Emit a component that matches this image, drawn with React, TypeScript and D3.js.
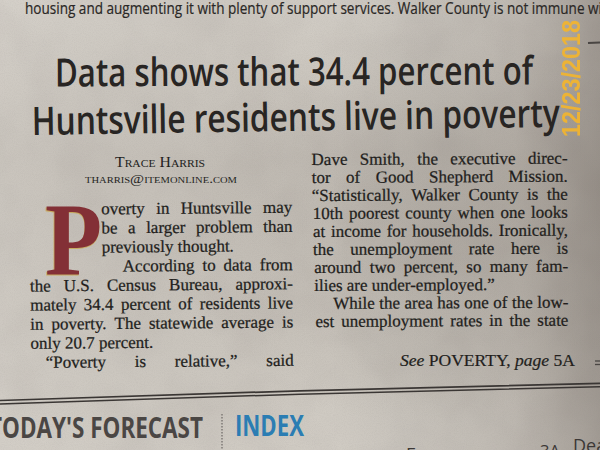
import React, { useMemo } from 'react';
import * as d3 from 'd3';

// ---------- content (read from the clipping) ----------
const topLine = 'housing and augmenting it with plenty of support services. Walker County is not immune wi';
const headlineLines = ['Data shows that 34.4 percent of', 'Huntsville residents live in poverty'];
const dateStamp = '12/23/2018';
const bylineName = 'Trace Harris';
const bylineEmail = 'tharris@itemonline.com';
const dropCap = 'P';
const leftColumn = [
  'overty in Huntsville may',
  'be a larger problem than',
  'previously thought.',
  'According to data from',
  'the U.S. Census Bureau, approxi-',
  'mately 34.4 percent of residents live',
  'in poverty. The statewide average is',
  'only 20.7 percent.',
  '\u201CPoverty is relative,\u201D said',
];
const rightColumn = [
  'Dave Smith, the executive direc-',
  'tor of Good Shepherd Mission.',
  '\u201CStatistically, Walker County is the',
  '10th poorest county when one looks',
  'at income for households. Ironically,',
  'the unemployment rate here is',
  'around two percent, so many fam-',
  'ilies are under-employed.\u201D',
  'While the area has one of the low-',
  'est unemployment rates in the state',
];
const jumpParts = [
  { t: 'See ', italic: true },
  { t: 'POVERTY, ', italic: false },
  { t: 'page ', italic: true },
  { t: '5A', italic: false },
];
const footerLeft = "TODAY'S FORECAST";
const footerRight = 'INDEX';
const footerBits = ['E', '3A', 'Dear'];

// ---------- helpers ----------
const SERIF = '"Liberation Serif", "DejaVu Serif", serif';
const SANS = '"Open Sans", "Noto Sans", sans-serif';
const BODY_SIZE = 17;
const INK = '#221e1c';

let ctx: CanvasRenderingContext2D | null = null;
function measure(text: string, font: string) {
  if (!ctx) ctx = document.createElement('canvas').getContext('2d');
  ctx!.font = font;
  return ctx!.measureText(text).width;
}

type Word = { w: string; x: number; len: number; squeeze: boolean };
function layoutLine(text: string, x0: number, x1: number, justify: boolean): Word[] {
  const font = `${BODY_SIZE}px ${SERIF}`;
  const words = text.split(' ');
  const widths = words.map((w) => measure(w, font));
  const sum = d3.sum(widths);
  const space = measure(' ', font);
  const n = words.length;
  const minGap = space * 0.75;
  const avail = x1 - x0;
  const natural = sum + (n - 1) * space;
  let scale = 1;
  let gap = space;
  if (justify) {
    scale = Math.min(1, (avail - (n - 1) * minGap) / sum);
    gap = n > 1 ? (avail - sum * scale) / (n - 1) : 0;
  } else if (natural > avail) {
    scale = (avail - (n - 1) * space) / sum;
  }
  let x = x0;
  return words.map((w, i) => {
    const len = widths[i] * scale;
    const r = { w, x, len, squeeze: scale < 1 };
    x += len + gap;
    return r;
  });
}

function Column({ lines, x0, x1, y0, y1, indents, ragged, rot }: any) {
  const yScale = d3.scaleLinear().domain([0, lines.length - 1]).range([y0, y1]);
  return (
    <g transform={`rotate(${rot}, ${x0}, ${(y0 + y1) / 2})`}>
      {lines.map((line: string, i: number) => {
        const words = layoutLine(line, indents[i] ?? x0, x1, !ragged.includes(i));
        return words.map((wd, j) => (
          <text
            key={`${i}-${j}`}
            x={wd.x}
            y={yScale(i)}
            fontFamily={SERIF}
            fontSize={BODY_SIZE}
            fill={INK}
            stroke={INK}
            strokeWidth={0.25}
            {...(wd.squeeze ? { textLength: wd.len, lengthAdjust: 'spacingAndGlyphs' } : {})}
          >
            {wd.w}
          </text>
        ));
      })}
    </g>
  );
}

export default function App() {
  const W = 600;
  const H = 450;

  const rulePath = useMemo(() => {
    const x = d3.scaleLinear().domain([0, 2]).range([0, W]);
    const ys = [400.5, 390.8, 383.3];
    const line = d3
      .line<number>()
      .x((_, i) => x(i))
      .y((d) => d)
      .curve(d3.curveNatural);
    return [line(ys)!, line(ys.map((v) => v + 3.4))!];
  }, []);

  const headY = d3.scaleLinear().domain([0, 1]).range([86.5, 135]);

  return (
    <svg
      width={W}
      height={H}
      viewBox={`0 0 ${W} ${H}`}
      style={{ position: 'fixed', left: 0, top: 0, display: 'block' }}
    >
      <defs>
        <linearGradient id="paperH" x1="0" x2="1" y1="0" y2="0">
          <stop offset="0" stopColor="#fff" stopOpacity="0.06" />
          <stop offset="0.55" stopColor="#000" stopOpacity="0" />
          <stop offset="0.86" stopColor="#3c322c" stopOpacity="0.12" />
          <stop offset="1" stopColor="#3c322c" stopOpacity="0.32" />
        </linearGradient>
        <linearGradient id="paperV" x1="0" x2="0" y1="0" y2="1">
          <stop offset="0" stopColor="#fff" stopOpacity="0.06" />
          <stop offset="0.35" stopColor="#3c322c" stopOpacity="0.06" />
          <stop offset="0.7" stopColor="#3c322c" stopOpacity="0.03" />
          <stop offset="1" stopColor="#fff" stopOpacity="0.04" />
        </linearGradient>
        <radialGradient id="shade" cx="0.72" cy="0.5" r="0.45">
          <stop offset="0" stopColor="#4a4038" stopOpacity="0.12" />
          <stop offset="1" stopColor="#4a4038" stopOpacity="0" />
        </radialGradient>
        <filter id="grain" x="0" y="0" width="100%" height="100%">
          <feTurbulence type="fractalNoise" baseFrequency="0.9" numOctaves="2" seed="3" />
          <feColorMatrix type="matrix" values="0 0 0 0 0.3  0 0 0 0 0.28  0 0 0 0 0.26  0 0 0 -1.2 0.75" />
        </filter>
        <filter id="mottle" x="0" y="0" width="100%" height="100%">
          <feTurbulence type="fractalNoise" baseFrequency="0.018" numOctaves="3" seed="7" />
          <feColorMatrix type="matrix" values="0 0 0 0 0.35  0 0 0 0 0.32  0 0 0 0 0.3  0 0 0 -1.6 1.0" />
        </filter>
      </defs>

      {/* paper */}
      <rect width={W} height={H} fill="#cfcac2" />
      <rect width={W} height={H} filter="url(#mottle)" opacity={0.2} />
      <rect width={W} height={H} fill="url(#shade)" />
      <rect width={W} height={H} fill="url(#paperV)" />
      <rect width={W} height={H} fill="url(#paperH)" />
      <rect width={W} height={H} filter="url(#grain)" opacity={0.16} />

      {/* previous story's last line */}
      <text
        x={25}
        y={13.5}
        fontFamily={SANS}
        fontSize={16}
        fill="#2a2725"
        stroke="#2a2725"
        strokeWidth={0.2}
        textLength={577}
        lengthAdjust="spacingAndGlyphs"
      >
        {topLine}
      </text>

      {/* headline */}
      <text
        x={55}
        y={headY(0)}
        fontFamily={SANS}
        fontWeight={600}
        fontSize={39}
        fill="#282523"
        textLength={478}
        lengthAdjust="spacingAndGlyphs"
        transform={`rotate(-0.25, 55, ${headY(0)})`}
      >
        {headlineLines[0]}
      </text>
      <text
        x={32}
        y={headY(1)}
        fontFamily={SANS}
        fontWeight={600}
        fontSize={39}
        fill="#282523"
        textLength={528}
        lengthAdjust="spacingAndGlyphs"
        transform={`rotate(-0.9, 32, ${headY(1)})`}
      >
        {headlineLines[1]}
      </text>

      {/* date stamp */}
      <text
        transform="translate(580,137) rotate(-90)"
        fontFamily='"Liberation Sans", Arial, sans-serif'
        fontWeight={700}
        fontSize={25}
        fill="#f3b52e"
        opacity={0.92}
        textLength={117}
        lengthAdjust="spacingAndGlyphs"
      >
        {dateStamp}
      </text>

      {/* right-edge marks */}
      <line x1={588} x2={600} y1={43} y2={42.5} stroke="#4a4643" strokeWidth={2} />
      <line x1={595} x2={600} y1={361} y2={361} stroke="#4a4643" strokeWidth={1.3} />
      <line x1={595} x2={600} y1={364.5} y2={364.5} stroke="#4a4643" strokeWidth={1.3} />

      {/* byline */}
      <text
        x={160}
        y={167}
        textAnchor="middle"
        fontFamily={SERIF}
        fontSize={15}
        fill={INK}
        style={{ fontVariant: 'small-caps' }}
        textLength={90}
        lengthAdjust="spacingAndGlyphs"
      >
        {bylineName}
      </text>
      <text
        x={161}
        y={183}
        textAnchor="middle"
        fontFamily={SERIF}
        fontSize={13}
        fill={INK}
        style={{ fontVariant: 'small-caps' }}
        textLength={152}
        lengthAdjust="spacingAndGlyphs"
      >
        {bylineEmail}
      </text>

      {/* drop cap */}
      <text
        x={44}
        y={276}
        fontFamily={SERIF}
        fontWeight={700}
        fontSize={103}
        fill="#c9a23c"
        opacity={0.7}
        textLength={58}
        lengthAdjust="spacingAndGlyphs"
      >
        {dropCap}
      </text>
      <text
        x={45}
        y={275}
        fontFamily={SERIF}
        fontWeight={700}
        fontSize={103}
        fill="#833036"
        textLength={57}
        lengthAdjust="spacingAndGlyphs"
      >
        {dropCap}
      </text>

      {/* columns */}
      <Column
        lines={leftColumn}
        x0={30}
        x1={293}
        y0={215}
        y1={368}
        indents={[102, 102, 102, 123, 30, 30, 30, 30, 45]}
        ragged={[2, 7]}
        rot={-0.5}
      />
      <Column
        lines={rightColumn}
        x0={312}
        x1={568}
        y0={165}
        y1={327}
        indents={[312, 312, 312, 313, 313, 313, 314, 314, 333, 315]}
        ragged={[7]}
        rot={-0.3}
      />

      {/* jump line */}
      <text
        x={400}
        y={366}
        fontFamily={SERIF}
        fontSize={17}
        fill={INK}
        stroke={INK}
        strokeWidth={0.2}
        textLength={175}
        lengthAdjust="spacingAndGlyphs"
      >
        {jumpParts.map((p, i) => (
          <tspan key={i} fontStyle={p.italic ? 'italic' : 'normal'}>
            {p.t}
          </tspan>
        ))}
      </text>

      {/* double rule */}
      <path d={rulePath[0]} fill="none" stroke="#3a3634" strokeWidth={1.7} />
      <path d={rulePath[1]} fill="none" stroke="#3a3634" strokeWidth={1.5} />

      {/* footer */}
      <text
        x={-11}
        y={438}
        fontFamily={SANS}
        fontWeight={700}
        fontSize={29}
        fill="#4a4644"
        textLength={214}
        lengthAdjust="spacingAndGlyphs"
      >
        {footerLeft}
      </text>
      <line x1={222} x2={222} y1={414} y2={450} stroke="#6b6764" strokeWidth={1.2} strokeDasharray="1.4 1.6" />
      <text
        x={235}
        y={436}
        fontFamily={SANS}
        fontWeight={700}
        fontSize={29}
        fill="#2b7db3"
        textLength={69}
        lengthAdjust="spacingAndGlyphs"
      >
        {footerRight}
      </text>
      <text x={406} y={461} fontFamily={SANS} fontSize={18} fill="#3c3836">
        {footerBits[0]}
      </text>
      <text x={540} y={457} fontFamily={SANS} fontSize={17} fill="#3c3836" textLength={20} lengthAdjust="spacingAndGlyphs">
        {footerBits[1]}
      </text>
      <text x={573} y={452} fontFamily={SANS} fontSize={18} fill="#3c3836">
        {footerBits[2]}
      </text>
    </svg>
  );
}
